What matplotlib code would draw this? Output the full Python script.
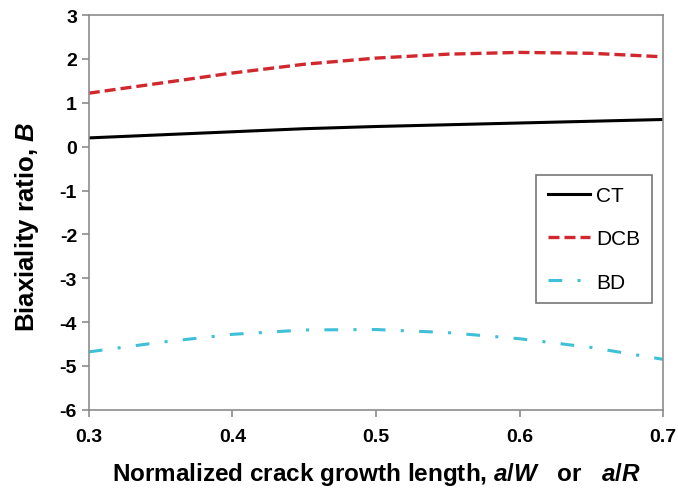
import numpy as np
import matplotlib.pyplot as plt

plt.rcParams['font.family'] = 'Liberation Sans'
plt.rcParams['font.weight'] = 'bold'
plt.rcParams['axes.unicode_minus'] = False
plt.rcParams['mathtext.fontset'] = 'custom'
plt.rcParams['mathtext.rm'] = 'Liberation Sans:bold'
plt.rcParams['mathtext.it'] = 'Liberation Sans:bold:italic'

# normalized crack length a/W (a/R for BD)
x = [0.30, 0.35, 0.40, 0.45, 0.50, 0.55, 0.60, 0.65, 0.70]
ct = [0.20, 0.27, 0.34, 0.41, 0.46, 0.50, 0.54, 0.58, 0.62]
dcb = [1.22, 1.45, 1.68, 1.88, 2.02, 2.11, 2.15, 2.13, 2.05]
bd = [-4.68, -4.46, -4.28, -4.18, -4.17, -4.24, -4.38, -4.58, -4.85]

fig = plt.figure(figsize=(6.78, 4.89), dpi=100)
ax = fig.add_axes([0.131, 0.16, 0.847, 0.807])

ax.plot(x, ct, color='black', lw=2.2, label='CT')
ax.plot(x, dcb, color='#d0282e', lw=2.4, ls=(0, (3.3, 1.5)), label='DCB')
ax.plot(x, bd, color='#3ec0d6', lw=2.2, ls=(0, (4.5, 5, 1, 5)), label='BD')

ax.set_xlim(0.3, 0.7)
ax.set_ylim(-6, 3)
ax.set_xticks([0.3, 0.4, 0.5, 0.6, 0.7])
ax.set_yticks(range(-6, 4))
for s in ax.spines.values():
    s.set_color('#8c8c8c')
    s.set_linewidth(1.2)
ax.tick_params(colors='#8c8c8c', labelcolor='black', labelsize=14, length=5, width=1.2)
ax.tick_params(axis='x', pad=8)
for lab in ax.get_xticklabels() + ax.get_yticklabels():
    lab.set_fontweight('bold')

ax.set_xlabel(r'Normalized crack growth length, $\mathit{a/W}$   or   $\mathit{a/R}$',
              fontsize=17.5, fontweight='bold', labelpad=11)
ax.set_ylabel(r'Biaxiality ratio, $\mathit{B}$', fontsize=18.5, fontweight='bold')
ax.yaxis.set_label_coords(-0.083, 0.466)

leg = ax.legend(loc='center right', bbox_to_anchor=(0.98, 0.433), fontsize=15,
                frameon=True, fancybox=False, edgecolor='#555555',
                borderpad=0.56, labelspacing=1.16, handlelength=2.0,
                handletextpad=0.3, borderaxespad=0)
leg.get_frame().set_linewidth(1.2)
for t in leg.get_texts():
    t.set_fontweight('normal')

fig.savefig('out.png', dpi=100)
